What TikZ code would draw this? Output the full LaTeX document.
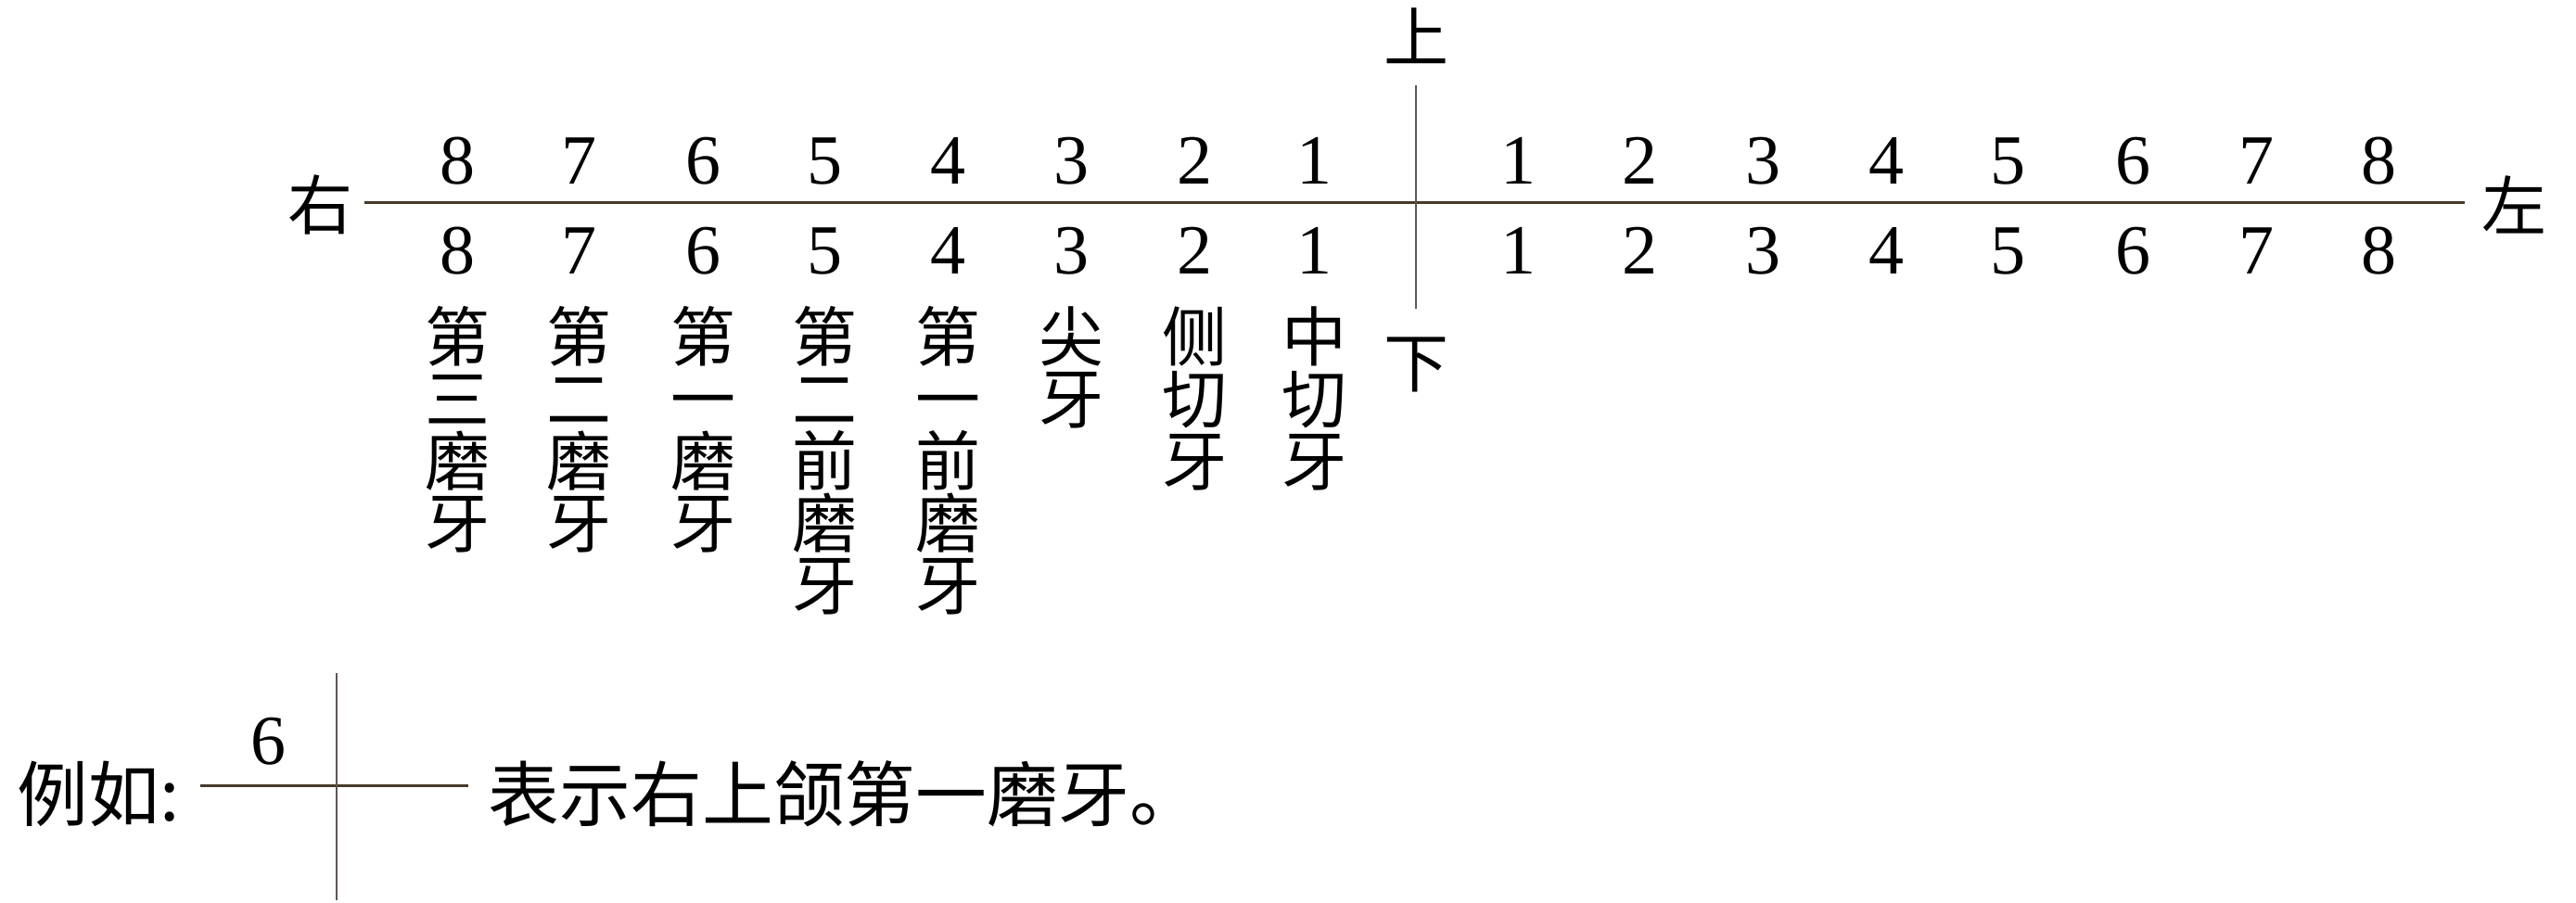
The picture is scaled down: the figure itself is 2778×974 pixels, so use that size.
\documentclass[tikz,border=0pt]{standalone}
\usepackage{fontspec}
\setmainfont{Liberation Serif}
\newfontfamily\cjk{Noto Sans CJK SC}
\definecolor{axis}{RGB}{70,58,40}
\definecolor{vaxis}{RGB}{95,85,85}
\begin{document}
\begin{tikzpicture}[x=0.25pt,y=-0.25pt,
  digit/.style={font=\fontsize{19}{19}\selectfont,inner sep=0pt,anchor=base},
  hz/.style={font=\cjk\fontsize{17.5}{17.5}\selectfont,inner sep=0pt},
  vlabel/.style={font=\cjk\fontsize{17.5}{16.75}\selectfont,inner sep=0pt,anchor=north,align=center},
  big/.style={font=\cjk\fontsize{19.2}{19.2}\selectfont,inner sep=0pt},
  hline/.style={draw=axis,line width=0.75pt},
  vline/.style={draw=vaxis,line width=0.5pt}]
\useasboundingbox (0,0) rectangle (2778,974);
\fill[white] (0,0) rectangle (2778,974);
% axis labels
\node[hz] (up) at (1527,39) {上};
\node[hz] (down) at (1527,393) {下};
\node[hz] (rightlbl) at (345,221) {右};
\node[hz] (leftlbl) at (2711,221) {左};
\coordinate (hl) at (393,218);
\coordinate (hr) at (2658,218);
\coordinate (vt) at (1527,92);
\coordinate (vb) at (1527,333);
\draw[hline] (hl) -- (hr);
\draw[vline] (vt) -- (vb);
% right-side digits
\foreach \n/\x in {8/493,7/624,6/758,5/889,4/1022,3/1155,2/1288,1/1417}{
  \node[digit] (ru\n) at (\x,198) {\n};
  \node[digit] (rd\n) at (\x,296) {\n};
}
\foreach \n/\x in {1/1637,2/1768,3/1901,4/2034,5/2165,6/2300,7/2433,8/2565}{
  \node[digit] (lu\n) at (\x,198) {\n};
  \node[digit] (ld\n) at (\x,296) {\n};
}
% tooth names
\node[vlabel] (t8) at (493,330) {第\\三\\磨\\牙};
\node[vlabel] (t7) at (624,330) {第\\二\\磨\\牙};
\node[vlabel] (t6) at (758,330) {第\\一\\磨\\牙};
\node[vlabel] (t5) at (889,330) {第\\二\\前\\磨\\牙};
\node[vlabel] (t4) at (1022,330) {第\\一\\前\\磨\\牙};
\node[vlabel] (t3) at (1155,330) {尖\\牙};
\node[vlabel] (t2) at (1288,330) {侧\\切\\牙};
\node[vlabel] (t1) at (1417,330) {中\\切\\牙};
% example
\node[big,anchor=west] (eg) at (18,856) {例如:};
\coordinate (el) at (216,847);
\coordinate (er) at (505,847);
\coordinate (et) at (363,726);
\coordinate (eb) at (363,971);
\draw[hline] (el) -- (er);
\draw[vline] (et) -- (eb);
\node[digit] (six) at (289,824) {6};
\node[big,anchor=west] (desc) at (526,856) {表示右上颌第一磨牙。};
\end{tikzpicture}
\end{document}
